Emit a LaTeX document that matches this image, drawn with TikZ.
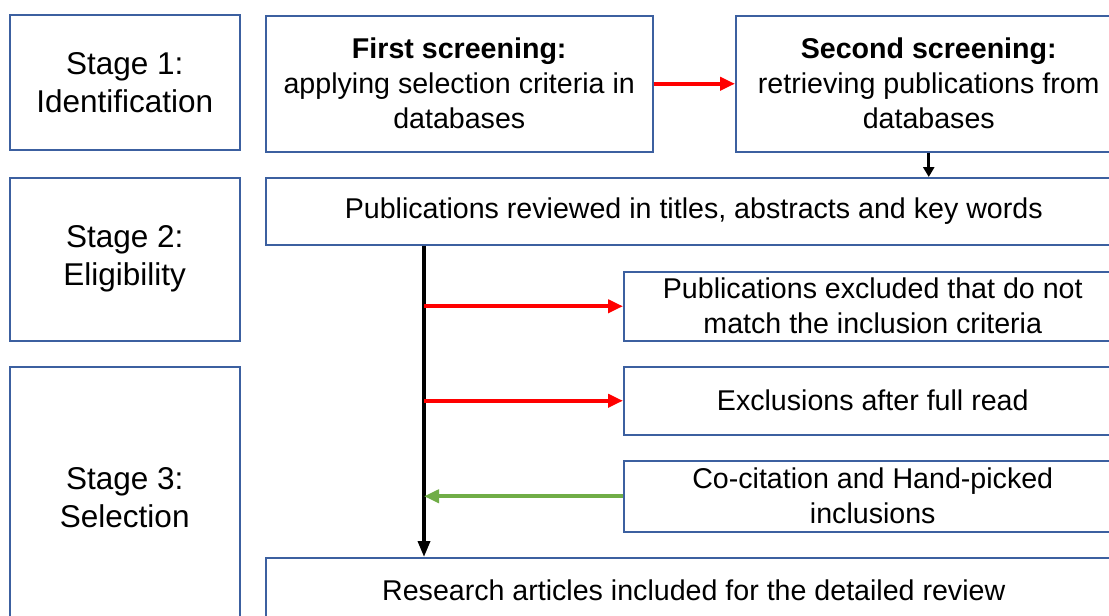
\documentclass[tikz,border=0pt]{standalone}
\usepackage{fontspec}
\setmainfont{Liberation Sans}
\usetikzlibrary{arrows.meta}
\definecolor{cframe}{RGB}{60,96,160}
\definecolor{cred}{RGB}{255,0,0}
\definecolor{cgreen}{HTML}{70AD47}
\tikzset{
  box/.style={rectangle, draw=cframe, line width=1.5pt, fill=white,
    inner sep=0pt, align=center, anchor=north west,
    font=\fontsize{28.6}{35}\selectfont},
  stagebox/.style={box, font=\fontsize{31.5}{38}\selectfont},
  arr/.style={-{Triangle[length=15pt,width=13pt]}, line width=4pt, color=#1},
  arr/.default=black
}
\begin{document}
\begin{tikzpicture}[x=1pt, y=-1pt]
    \useasboundingbox (0,0) rectangle (1109,616);
    \clip (0,0) rectangle (1109,616);
    % stage column
    \node[stagebox, minimum width=230pt, minimum height=135pt] (st1) at (9,14)
        {Stage 1:\\Identification};
    \node[stagebox, minimum width=230pt, minimum height=163pt] (st2) at (9,177)
        {Stage 2:\\Eligibility};
    \node[stagebox, minimum width=230pt, minimum height=262pt] (st3) at (9,366)
        {Stage 3:\\Selection};
    % screening steps
    \node[box, minimum width=387pt, minimum height=136pt] (first) at (265,15)
        {\textbf{First screening:}\\applying selection criteria in\\databases};
    \node[box, minimum width=386pt, minimum height=136pt] (second) at (735,15)
        {\textbf{Second screening:}\\retrieving publications from\\databases};
    \node[box, minimum width=856pt, minimum height=67pt] (pub) at (265,177)
        {Publications reviewed in titles, abstracts and key words};
    \node[box, minimum width=498pt, minimum height=69pt] (excl) at (623,271)
        {Publications excluded that do not\\match the inclusion criteria};
    \node[box, minimum width=498pt, minimum height=68pt] (full) at (623,366)
        {Exclusions after full read};
    \node[box, minimum width=498pt, minimum height=71pt] (cite) at (623,460)
        {Co-citation and Hand-picked\\inclusions};
    \node[box, minimum width=856pt, minimum height=66pt] (res) at (265,557)
        {Research articles included for the detailed review};
    % connectors
    \coordinate (trunk) at (424,0);
    \draw[arr=cred] (first) -- (second);
    \draw[line width=3pt, -{Triangle[length=10pt,width=11pt]}]
        (second.south) -- (second.south |- pub.north);
    \draw[line width=3.5pt, -{Triangle[length=16pt,width=12pt]}]
        (trunk |- pub.south) -- (trunk |- res.north);
    \draw[arr=cred] (trunk |- excl.west) -- (excl.west);
    \draw[arr=cred] (trunk |- full.west) -- (full.west);
    \draw[arr=cgreen] (cite.west) -- (trunk |- cite.west);
\end{tikzpicture}
\end{document}
